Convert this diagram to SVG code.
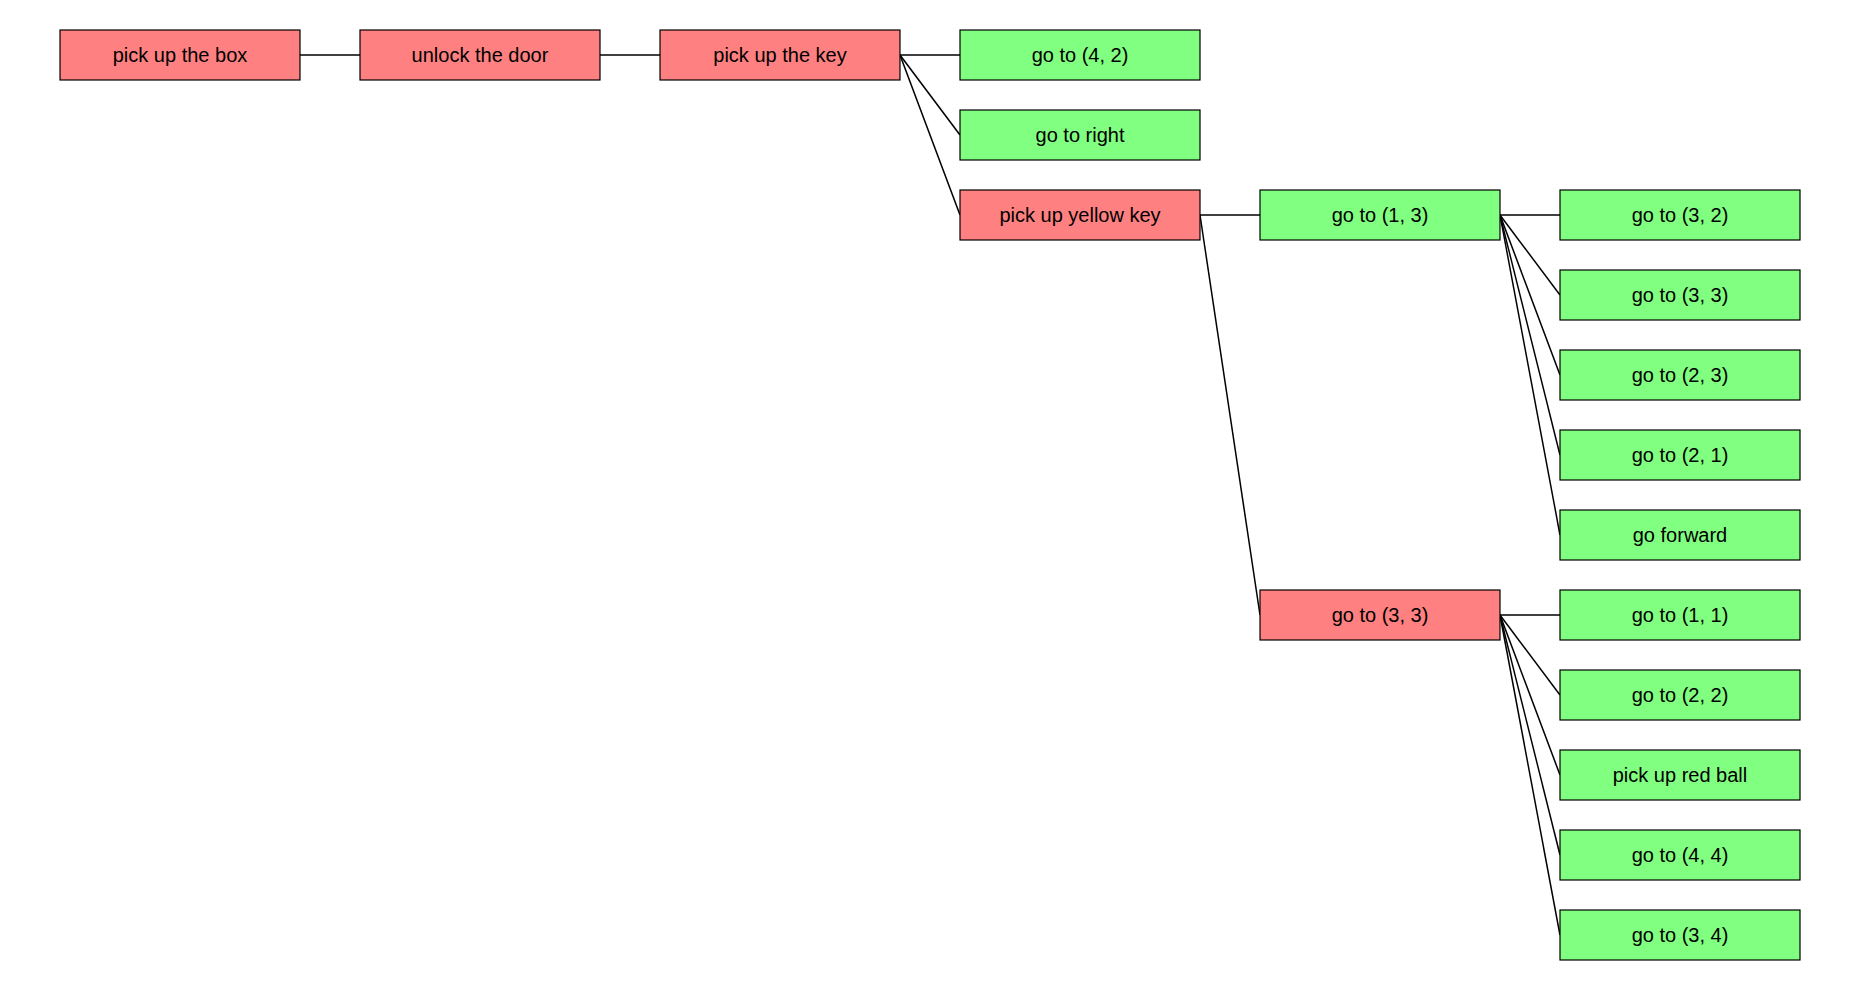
<svg xmlns="http://www.w3.org/2000/svg" width="1860" height="990" viewBox="0 0 1860 990">
  <style>
    .n rect { stroke: #000; stroke-width: 1.2; }
    .red rect { fill: #ff8080; }
    .green rect { fill: #80ff80; }
    .n text { font-family: "Liberation Sans", Arial, sans-serif; font-size: 20px; fill: #000; text-anchor: middle; }
    #edges line { stroke: #000; stroke-width: 1.5; }
  </style>
  <rect width="1860" height="990" fill="#fff"/>
  <g id="edges">
    <line x1="300" y1="55" x2="360" y2="55"/>
    <line x1="600" y1="55" x2="660" y2="55"/>
    <line x1="900" y1="55" x2="960" y2="55"/>
    <line x1="900" y1="55" x2="960" y2="135"/>
    <line x1="900" y1="55" x2="960" y2="215"/>
    <line x1="1200" y1="215" x2="1260" y2="215"/>
    <line x1="1200" y1="215" x2="1260" y2="615"/>
    <line x1="1500" y1="215" x2="1560" y2="215"/>
    <line x1="1500" y1="215" x2="1560" y2="295"/>
    <line x1="1500" y1="215" x2="1560" y2="375"/>
    <line x1="1500" y1="215" x2="1560" y2="455"/>
    <line x1="1500" y1="215" x2="1560" y2="535"/>
    <line x1="1500" y1="615" x2="1560" y2="615"/>
    <line x1="1500" y1="615" x2="1560" y2="695"/>
    <line x1="1500" y1="615" x2="1560" y2="775"/>
    <line x1="1500" y1="615" x2="1560" y2="855"/>
    <line x1="1500" y1="615" x2="1560" y2="935"/>
  </g>
  <g id="n1" class="n red"><rect x="60" y="30" width="240" height="50"/><text x="180" y="62">pick up the box</text></g>
  <g id="n2" class="n red"><rect x="360" y="30" width="240" height="50"/><text x="480" y="62">unlock the door</text></g>
  <g id="n3" class="n red"><rect x="660" y="30" width="240" height="50"/><text x="780" y="62">pick up the key</text></g>
  <g id="n4" class="n green"><rect x="960" y="30" width="240" height="50"/><text x="1080" y="62">go to (4, 2)</text></g>
  <g id="n5" class="n green"><rect x="960" y="110" width="240" height="50"/><text x="1080" y="142">go to right</text></g>
  <g id="n6" class="n red"><rect x="960" y="190" width="240" height="50"/><text x="1080" y="222">pick up yellow key</text></g>
  <g id="n7" class="n green"><rect x="1260" y="190" width="240" height="50"/><text x="1380" y="222">go to (1, 3)</text></g>
  <g id="n8" class="n red"><rect x="1260" y="590" width="240" height="50"/><text x="1380" y="622">go to (3, 3)</text></g>
  <g id="n9" class="n green"><rect x="1560" y="190" width="240" height="50"/><text x="1680" y="222">go to (3, 2)</text></g>
  <g id="n10" class="n green"><rect x="1560" y="270" width="240" height="50"/><text x="1680" y="302">go to (3, 3)</text></g>
  <g id="n11" class="n green"><rect x="1560" y="350" width="240" height="50"/><text x="1680" y="382">go to (2, 3)</text></g>
  <g id="n12" class="n green"><rect x="1560" y="430" width="240" height="50"/><text x="1680" y="462">go to (2, 1)</text></g>
  <g id="n13" class="n green"><rect x="1560" y="510" width="240" height="50"/><text x="1680" y="542">go forward</text></g>
  <g id="n14" class="n green"><rect x="1560" y="590" width="240" height="50"/><text x="1680" y="622">go to (1, 1)</text></g>
  <g id="n15" class="n green"><rect x="1560" y="670" width="240" height="50"/><text x="1680" y="702">go to (2, 2)</text></g>
  <g id="n16" class="n green"><rect x="1560" y="750" width="240" height="50"/><text x="1680" y="782">pick up red ball</text></g>
  <g id="n17" class="n green"><rect x="1560" y="830" width="240" height="50"/><text x="1680" y="862">go to (4, 4)</text></g>
  <g id="n18" class="n green"><rect x="1560" y="910" width="240" height="50"/><text x="1680" y="942">go to (3, 4)</text></g>
</svg>
